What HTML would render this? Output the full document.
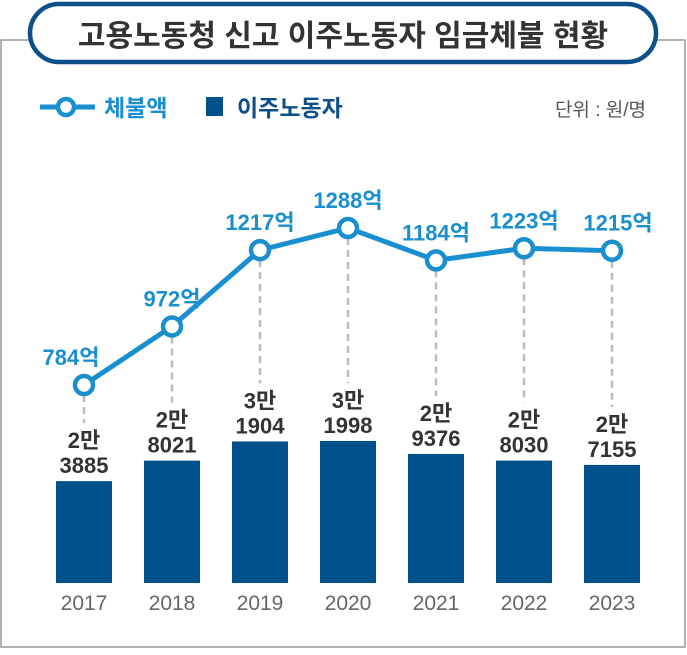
<!DOCTYPE html>
<html><head><meta charset="utf-8"><style>
body{margin:0;background:#fff;}
svg text{font-family:"Liberation Sans","Noto Sans CJK KR",sans-serif;}
</style></head><body>
<svg width="687" height="650" viewBox="0 0 687 650">
<rect x="1" y="40" width="684" height="607" fill="#fff" stroke="#999" stroke-width="1.5"/>
<rect x="30" y="4" width="626" height="58" rx="29" fill="#fff" stroke="#0d4f8a" stroke-width="4.5"/>
<text x="343" y="46" font-size="30" font-weight="bold" fill="#333" text-anchor="middle">고용노동청 신고 이주노동자 임금체불 현황</text>
<g>
<line x1="40" y1="107" x2="95" y2="107" stroke="#1a8fd0" stroke-width="5"/>
<circle cx="66" cy="107" r="8" fill="#fff" stroke="#1a8fd0" stroke-width="4.5"/>
<text x="104" y="116" font-size="23" font-weight="bold" fill="#1a8fd0">체불액</text>
<rect x="206" y="97" width="17" height="19" fill="#00508c"/>
<text x="237" y="116" font-size="23" font-weight="bold" fill="#0c4f8a">이주노동자</text>
<text x="646" y="116" font-size="19" fill="#555" text-anchor="end">단위 : 원/명</text>
</g>
<g id="plot"></g>
</svg>
<script>
const years=["2017","2018","2019","2020","2021","2022","2023"];
const workers=[23885,28021,31904,31998,29376,28030,27155];
const workerTop=["2만","2만","3만","3만","2만","2만","2만"];
const workerBottom=["3885","8021","1904","1998","9376","8030","7155"];
const arrears=[784,972,1217,1288,1184,1223,1215];
const NS="http://www.w3.org/2000/svg";
const g=document.getElementById("plot");
function xAt(i){return 84+i*88;}
function yBar(v){return 583-(v-3300)*0.00495;}
function yLine(v){return 385-(v-784)*0.3115;}
function mk(t,a,txt){const e=document.createElementNS(NS,t);for(const k in a)e.setAttribute(k,a[k]);if(txt!==undefined)e.textContent=txt;g.appendChild(e);return e;}
years.forEach((y,i)=>{
 const x=xAt(i),top=yBar(workers[i]);
 const b=mk("rect",{x:x-28,y:top,width:56,height:583-top,fill:"#00508c"});
 
 
 const t1=mk("text",{x:x,y:top-33,"font-size":22,"font-weight":"bold",fill:"#333","text-anchor":"middle"},workerTop[i]);
 
 
 const t2=mk("text",{x:x,y:top-8,"font-size":22,"font-weight":"bold",fill:"#333","text-anchor":"middle"},workerBottom[i]);
 
 
 const yl=mk("text",{x:x,y:610,"font-size":21,fill:"#666","text-anchor":"middle"},y);
 
 
 const d=mk("line",{x1:x,x2:x,y1:yLine(arrears[i])+10,y2:top-58,stroke:"#bbb","stroke-width":2.5,"stroke-dasharray":"7,5"});
 
 
});
const pts=arrears.map((v,i)=>xAt(i)+","+yLine(v)).join(" ");
const pl=mk("polyline",{points:pts,fill:"none",stroke:"#1a8fd0","stroke-width":5});


arrears.forEach((v,i)=>{
 const x=xAt(i),y=yLine(v);
 const c=mk("circle",{cx:x,cy:y,r:9,fill:"#fff",stroke:"#1a8fd0","stroke-width":4.5});
 
 
 const t=mk("text",{x:x-(i==0?13:i==6?-6:0),y:y-20,"font-size":22,"font-weight":"bold",fill:"#1a8fd0","text-anchor":"middle"},v+"억");
 
 
});
</script>
</body></html>
